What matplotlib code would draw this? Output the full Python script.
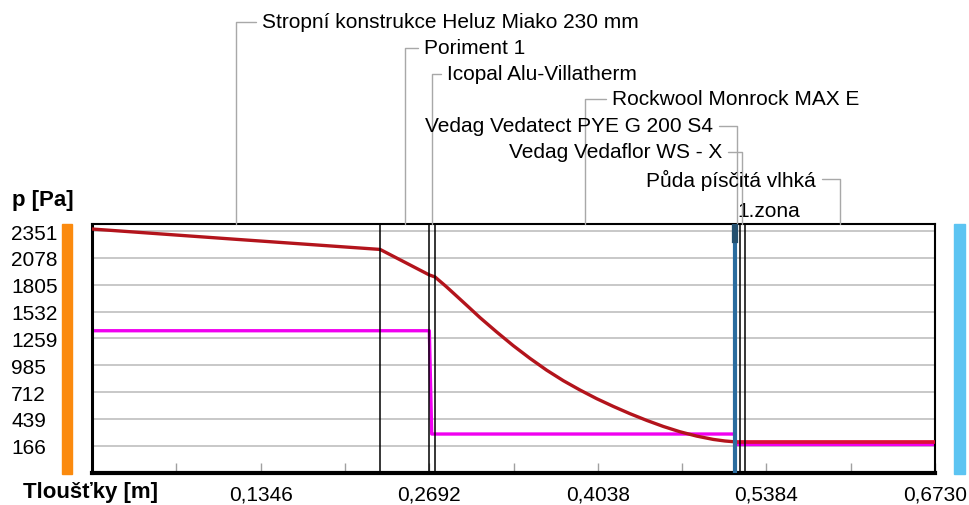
# -*- coding: utf-8 -*-
import numpy as np
import matplotlib
matplotlib.use('Agg')
import matplotlib.pyplot as plt
import matplotlib.transforms as mtransforms
from matplotlib.patches import Rectangle

plt.rcParams['font.family'] = ['Liberation Sans', 'DejaVu Sans']
plt.rcParams['font.size'] = 15

# vrstvy konstrukce (hranice v m)
layer_names = ['Stropní konstrukce Heluz Miako 230 mm', 'Poriment 1', 'Icopal Alu-Villatherm',
               'Rockwool Monrock MAX E', 'Vedag Vedatect PYE G 200 S4', 'Vedag Vedaflor WS - X',
               'Půda písčitá vlhká']
layer_bounds = [0.0, 0.23, 0.2693, 0.2738, 0.5136, 0.5170, 0.5210, 0.673]
zone_x = 0.5136
zone_name = '1.zona'

# osa y
p_ticks = [2351, 2078, 1805, 1532, 1259, 985, 712, 439, 166]
p_labels = ['2351', '2078', '1805', '1532', '1259', '985', '712', '439', '166']
# osa x
x_ticks = [0.1346, 0.2692, 0.4038, 0.5384, 0.6730]
x_labels = ['0,1346', '0,2692', '0,4038', '0,5384', '0,6730']
x_minor = [0.0673, 0.2019, 0.3365, 0.4711, 0.6057]

# nasycený tlak vodní páry
psat_x = [0.0, 0.115, 0.23, 0.2693, 0.2738, 0.2825, 0.2911, 0.3005, 0.3098, 0.3230,
          0.3363, 0.3497, 0.3630, 0.3763, 0.3896, 0.4029, 0.4162, 0.4295, 0.4428,
          0.4561, 0.4694, 0.4827, 0.4960, 0.5053, 0.5136]
psat_p = [2373, 2268, 2165, 1905, 1885, 1790, 1690, 1580, 1470, 1325,
          1185, 1055, 935, 828, 733, 645, 566, 492, 424,
          362, 308, 264, 230, 214, 205]
# částečný tlak vodní páry
pv_x = [0.0, 0.2693, 0.2712, 0.5136, 0.5136, 0.673]
pv_p = [1337, 1337, 285, 285, 178, 178]
# zóna kondenzace - půda
ground_x = [0.5136, 0.673]
ground_psat = [208, 208]

W, H = 969, 506
fig = plt.figure(figsize=(W / 100, H / 100), dpi=100)
ax = fig.add_axes([92 / W, 32 / H, 843 / W, 249 / H])
ax.set_xlim(0, 0.673)
ax.set_ylim(-112, 2424)

# mřížka
for p in p_ticks:
    ax.axhline(p, color='#c4c4c4', lw=1.3, zorder=0)

# křivky
ax.plot(pv_x, pv_p, color='#f000f0', lw=2.4, zorder=2, solid_capstyle='butt')
ax.plot(psat_x, psat_p, color='#b3141c', lw=2.4, zorder=3, solid_joinstyle='round')
ax.plot(ground_x, ground_psat, color='#dc1038', lw=2.7, zorder=3, solid_capstyle='butt')

# hranice vrstev
for b in layer_bounds[1:-1]:
    ax.axvline(b, color='black', lw=1.1, zorder=4)

# zóna kondenzace
ax.axvline(zone_x, color='#2b6c9e', lw=3, zorder=5)
ax.axvline(zone_x, ymin=0.935, ymax=0.99, color='#24506f', lw=4.5, zorder=5)
ax.annotate(zone_name, xy=(zone_x, 1), xycoords=('data', 'axes fraction'),
            xytext=(2, 13), textcoords='offset pixels', ha='left', va='center',
            annotation_clip=False)

# popisky vrstev s vynášecími čarami
label_pos = [(262, 23, 'left'), (424, 49, 'left'), (447, 75, 'left'), (612, 100, 'left'),
             (713, 127, 'right'), (722, 153, 'right'), (816, 180, 'right')]
for i, name in enumerate(layer_names):
    mid = (layer_bounds[i] + layer_bounds[i + 1]) / 2
    tx, ty, ha = label_pos[i]
    ax.annotate(name, xy=(mid, 1), xycoords=('data', 'axes fraction'),
                xytext=(tx, H - ty), textcoords='figure pixels', ha=ha, va='center',
                annotation_clip=False,
                arrowprops=dict(arrowstyle='-', color='#a8a8a8', lw=1, shrinkB=0,
                                relpos=(0 if ha == 'left' else 1, 0.5),
                                connectionstyle='angle,angleA=0,angleB=90,rad=0'))

# osy
ax.set_yticks([])
trans = mtransforms.blended_transform_factory(fig.transFigure, ax.transData)
trans = mtransforms.offset_copy(trans, fig=fig, x=0, y=-2, units='dots')
for p, lab in zip(p_ticks, p_labels):
    ax.text(11 / W, p, lab, transform=trans, ha='left', va='center', clip_on=False)

ax.set_xticks(x_ticks)
ax.set_xticklabels(x_labels)
ax.set_xticks(x_minor, minor=True)
ax.tick_params(axis='x', which='both', direction='in', length=7.5, width=1, color='#a0a0a0', pad=8)

ax.spines['left'].set_linewidth(2.2)
ax.spines['bottom'].set_linewidth(3)
ax.spines['top'].set_linewidth(1.5)
ax.spines['right'].set_linewidth(1.5)

fig.text(12 / W, 1 - 201 / H, 'p [Pa]', weight='bold', ha='left', va='center', fontsize=16)
fig.text(23 / W, 1 - 493 / H, 'Tloušťky [m]', weight='bold', ha='left', va='center', fontsize=16)

# barevné pruhy (interiér / exteriér)
fig.patches.append(Rectangle((62 / W, 31 / H), 10 / W, 250 / H, transform=fig.transFigure,
                             color='#fb8a0e', zorder=0))
fig.patches.append(Rectangle((954 / W, 31 / H), 11 / W, 250 / H, transform=fig.transFigure,
                             color='#5cc4f2', zorder=0))

fig.savefig('out.png', dpi=100)
